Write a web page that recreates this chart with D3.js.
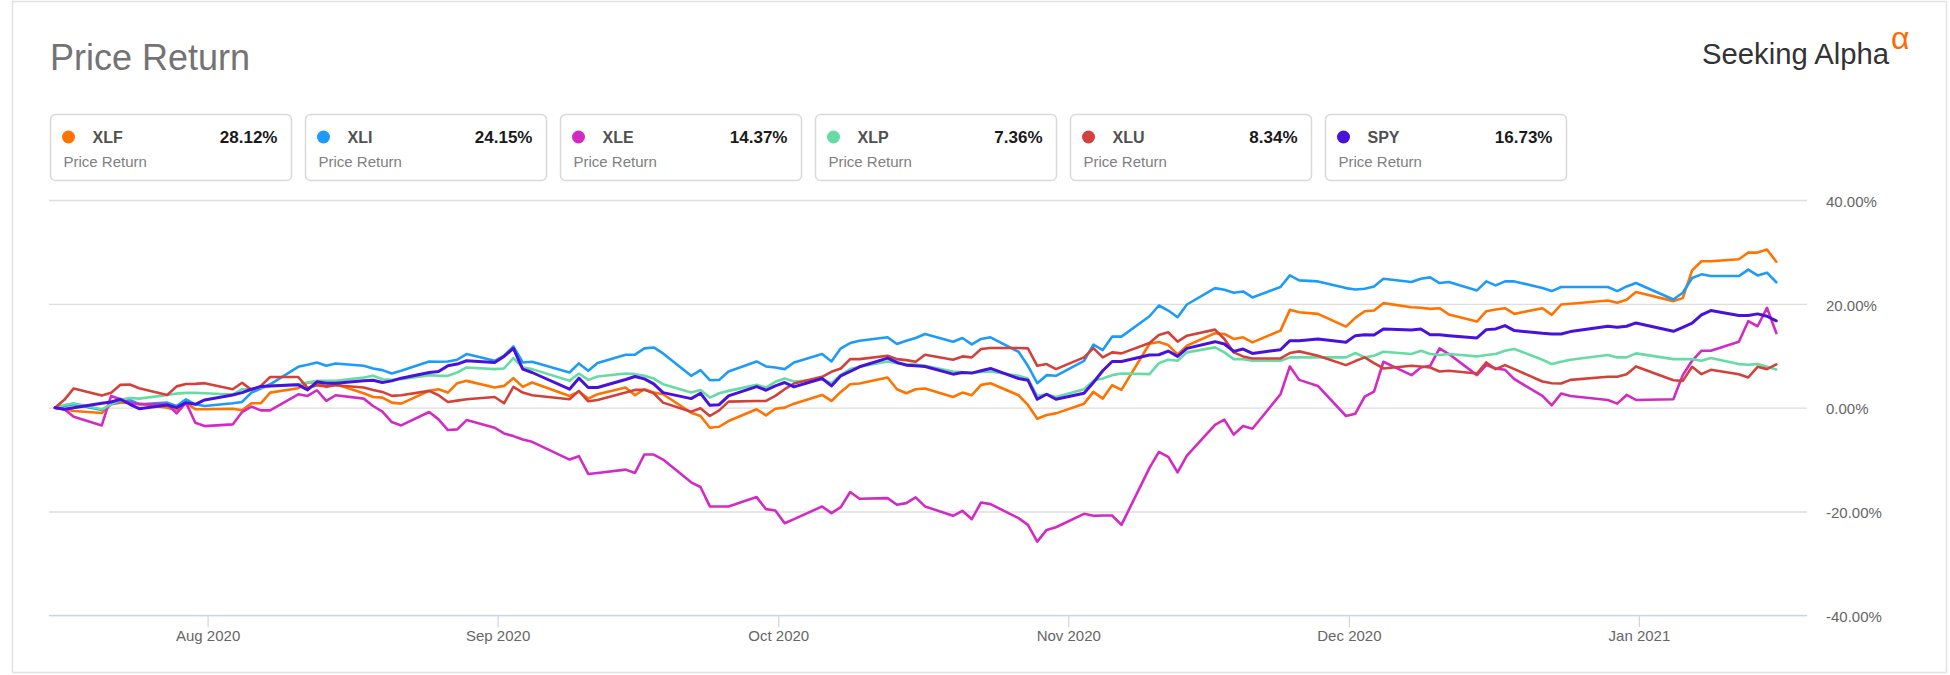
<!DOCTYPE html>
<html><head><meta charset="utf-8">
<script src="https://cdn.jsdelivr.net/npm/d3@7"></script>
<style>
body{margin:0;background:#fff;}
svg{display:block;font-family:"Liberation Sans",Arial,Helvetica,sans-serif;}
</style>
</head><body>
<svg id="chart" width="1950" height="675"></svg>
<script>
// ---------------- DATA ----------------
const tradingDays = [
"2020-07-15","2020-07-16","2020-07-17","2020-07-20","2020-07-21","2020-07-22","2020-07-23","2020-07-24","2020-07-27","2020-07-28","2020-07-29","2020-07-30","2020-07-31",
"2020-08-03","2020-08-04","2020-08-05","2020-08-06","2020-08-07","2020-08-10","2020-08-11","2020-08-12","2020-08-13","2020-08-14","2020-08-17","2020-08-18","2020-08-19","2020-08-20","2020-08-21","2020-08-24","2020-08-25","2020-08-26","2020-08-27","2020-08-28","2020-08-31",
"2020-09-01","2020-09-02","2020-09-03","2020-09-04","2020-09-08","2020-09-09","2020-09-10","2020-09-11","2020-09-14","2020-09-15","2020-09-16","2020-09-17","2020-09-18","2020-09-21","2020-09-22","2020-09-23","2020-09-24","2020-09-25","2020-09-28","2020-09-29","2020-09-30",
"2020-10-01","2020-10-02","2020-10-05","2020-10-06","2020-10-07","2020-10-08","2020-10-09","2020-10-12","2020-10-13","2020-10-14","2020-10-15","2020-10-16","2020-10-19","2020-10-20","2020-10-21","2020-10-22","2020-10-23","2020-10-26","2020-10-27","2020-10-28","2020-10-29","2020-10-30",
"2020-11-02","2020-11-03","2020-11-04","2020-11-05","2020-11-06","2020-11-09","2020-11-10","2020-11-11","2020-11-12","2020-11-13","2020-11-16","2020-11-17","2020-11-18","2020-11-19","2020-11-20","2020-11-23","2020-11-24","2020-11-25","2020-11-27","2020-11-30",
"2020-12-01","2020-12-02","2020-12-03","2020-12-04","2020-12-07","2020-12-08","2020-12-09","2020-12-10","2020-12-11","2020-12-14","2020-12-15","2020-12-16","2020-12-17","2020-12-18","2020-12-21","2020-12-22","2020-12-23","2020-12-24","2020-12-28","2020-12-29","2020-12-30","2020-12-31",
"2021-01-04","2021-01-05","2021-01-06","2021-01-07","2021-01-08","2021-01-11","2021-01-12","2021-01-13","2021-01-14","2021-01-15"
];

const xlf = [
0,-0.32,-0.65,-1.03,0.65,0.97,0.97,0.77,0,-0.45,0.97,-0.32,-0.32,
-0.2,-0.5,0.84,0.84,2.9,3.74,4.84,4.84,4.0,4.52,2.77,2.06,1.94,0.97,0.77,3.23,3.55,2.9,4.71,5.16,3.87,
4.19,5.68,4.0,4.84,2.26,3.1,1.74,2.58,3.87,2.39,3.55,2.9,2.58,-0.97,-1.61,-3.87,-3.68,-2.58,-0.32,-1.48,-0.2,
0,0.77,2.45,1.29,3.03,4.52,4.65,5.8,3.55,2.77,3.55,3.68,2.06,2.9,2.39,4.39,4.71,2.39,0.52,-2.13,-1.42,-1.1,
0.77,3.03,1.74,4.32,3.42,12.3,12.65,12.06,10.25,11.94,14.32,14.19,13.23,13.55,12.58,14.84,18.84,18.39,18.06,15.61,
17.29,18.58,18.71,20.13,19.35,19.23,19.03,19.16,17.94,16.58,18.58,18.9,19.16,18.06,19.16,17.87,19.87,20.0,20.65,20.19,20.77,22.26,
20.52,21.1,26.45,28.19,28.19,28.58,29.87,29.87,30.45,28.12
];

const xli = [
0,0.32,0.65,-0.45,0.65,1.29,1.48,0.65,0.97,0.32,1.61,0.65,0.32,
0.84,1.1,2.9,3.68,4.5,7.87,8.26,8.71,8.06,8.52,8.06,7.55,7.23,6.58,7.1,8.9,8.84,8.9,9.23,10.32,9.03,
10.0,11.8,8.71,8.84,6.77,8.52,7.1,8.58,10.2,10.2,11.42,11.6,10.45,6.13,7.23,5.29,5.35,6.97,8.9,7.94,7.74,
7.42,8.71,10.32,8.9,11.42,12.45,12.9,13.55,12.26,12.9,13.42,14.19,12.71,13.42,12.19,13.23,13.55,10.77,8.06,4.71,6.26,6.13,
9.03,12.13,11.1,13.68,13.68,17.61,19.68,18.71,17.42,19.87,23.03,22.71,22.13,22.39,21.23,23.23,25.48,24.52,24.32,23.03,
22.77,22.9,23.35,24.84,24.19,24.84,25.1,24.0,24.19,22.58,24.32,23.55,24.32,24.32,23.03,22.45,23.23,23.23,23.23,22.45,23.35,24.0,
20.84,22.13,24.97,25.68,25.35,25.35,26.58,25.48,26.0,24.15
];

const xle = [
0,-0.32,-1.74,-3.42,2.26,1.61,0.97,0.65,0.65,-1.1,0.97,-2.9,-3.55,
-3.23,-0.84,0.2,-0.52,-0.52,2.58,2.26,3.35,1.29,2.39,1.74,0.32,-0.77,-2.77,-3.42,-0.84,-2.26,-4.32,-4.19,-2.39,-3.87,
-4.97,-5.48,-6.13,-6.58,-10.0,-9.35,-12.77,-12.58,-11.94,-12.58,-9.03,-9.03,-10.0,-14.39,-15.29,-19.03,-19.03,-19.03,-17.23,-19.55,-19.81,
-22.26,-21.48,-19.03,-20.32,-19.16,-16.26,-17.55,-17.42,-18.71,-18.39,-17.29,-19.03,-20.84,-19.87,-21.48,-18.26,-18.58,-21.29,-22.58,-25.81,-23.55,-23.03,
-20.45,-20.84,-20.77,-20.77,-22.58,-11.61,-8.52,-9.48,-12.45,-9.23,-3.3,-2.3,-5.2,-3.55,-4.06,2.58,7.94,5.35,4.19,-1.61,
-1.16,2.13,3.1,8.84,6.26,7.74,8.06,11.42,10.32,6.26,8.19,7.55,7.29,5.48,2.26,0.45,2.71,2.26,1.48,0.77,2.45,1.48,
1.61,6.26,9.03,10.97,10.97,12.71,16.65,15.68,19.23,14.37
];

const xlp = [
0,0.5,0.84,-0.32,0.65,1.5,1.87,1.74,2.45,2.71,2.84,2.84,2.77,
2.52,3.55,3.55,3.87,4.19,4.52,4.84,5.16,5.16,5.16,5.8,6.13,5.48,5.35,5.48,6.26,6.13,6.13,6.77,7.74,7.42,
7.55,9.55,7.74,7.42,5.16,6.58,5.35,6.0,6.58,6.45,6.13,5.61,4.52,2.9,3.42,1.94,2.77,3.23,4.39,3.87,4.97,
5.61,5.03,5.48,4.71,6.32,7.42,7.87,8.9,8.58,8.39,8.32,8.06,6.97,6.84,6.77,6.9,6.97,6.13,5.61,2.26,2.58,2.06,
3.55,5.16,5.61,6.26,6.58,6.45,8.58,9.23,9.03,10.65,11.61,10.65,9.35,9.35,9.03,9.03,9.68,9.68,9.68,9.68,
10.52,9.68,10.0,10.77,10.32,10.97,10.32,10.13,10.32,9.87,10.13,10.32,10.97,11.29,9.23,8.39,8.84,9.23,10.13,9.68,9.68,10.45,
9.35,9.35,9.35,9.03,9.55,8.39,8.26,8.39,7.87,7.36
];

const xlu = [
0,1.5,3.7,2.32,2.85,4.39,4.45,3.74,2.45,4.1,4.55,4.58,4.72,
3.55,4.8,3.42,4.19,5.9,5.9,3.8,4.3,4.1,4.32,3.87,3.42,3.03,2.26,2.39,3.23,2.39,1.1,1.35,1.61,2.06,
0.84,4.0,2.9,2.39,1.61,3.23,1.23,1.48,2.9,3.42,3.42,2.77,0.97,-0.77,-0.13,-1.61,-0.52,1.16,1.29,1.29,2.26,
3.55,4.65,5.94,6.9,7.55,9.35,9.35,10.0,9.35,9.16,8.84,10.19,9.23,9.87,9.68,11.29,11.48,11.48,11.42,8.06,8.39,7.42,
9.68,11.48,9.68,10.65,10.45,12.45,14.0,14.52,12.71,13.87,15.03,13.23,10.65,9.87,9.48,9.48,10.52,10.84,10.0,8.19,
8.97,9.68,8.58,7.55,8.06,7.94,7.74,6.97,7.1,6.58,8.71,7.42,8.19,7.42,5.03,4.71,4.65,5.35,5.94,5.94,6.45,7.94,
5.29,5.16,7.87,6.45,7.29,6.45,5.81,7.87,7.42,8.34
];

const spy = [
0,-0.32,0,0.84,1.1,1.61,0.65,-0.2,0.52,0,0.97,0.65,1.48,
2.45,2.9,3.55,4.06,4.19,4.39,3.42,4.97,4.71,4.71,5.16,5.29,4.84,5.16,5.68,6.77,6.97,8.06,8.39,9.03,8.71,
9.87,11.42,7.42,6.77,3.55,5.68,3.87,3.87,5.42,5.99,5.55,4.58,2.9,1.74,2.77,0.45,0.58,2.26,4.06,3.35,4.19,
4.84,4.0,5.61,4.19,6.13,6.97,7.87,9.55,8.71,8.19,8.06,7.94,6.45,6.77,6.65,7.1,7.55,5.61,5.29,1.61,2.58,1.61,
2.77,4.84,7.1,8.9,8.9,10.13,10.19,10.9,9.87,11.42,12.71,12.26,10.84,11.29,10.45,11.16,12.9,12.9,13.23,12.58,
13.87,14.06,14.0,15.16,14.97,15.16,14.06,14.06,13.87,13.42,15.03,15.16,15.81,14.84,14.32,14.19,14.19,14.65,15.68,15.48,15.68,16.32,
14.71,15.48,16.26,17.87,18.71,17.74,17.74,18.06,17.61,16.73
];

const seriesNames   = ["XLF","XLI","XLE","XLP","XLU","SPY"];
const seriesValues  = [xlf, xli, xle, xlp, xlu, spy];
const seriesColors  = ["#ff7300","#1e9bf8","#d22bc5","#66dba4","#d2413a","#4712dc"];
const legendReturns = ["28.12%","24.15%","14.37%","7.36%","8.34%","16.73%"];
const legendSubtitle = "Price Return";
const chartTitle = "Price Return";
const monthTicks = ["2020-08-01","2020-09-01","2020-10-01","2020-11-01","2020-12-01","2021-01-01"];
const yTicks = [-40,-20,0,20,40];

// ---------------- CHART ----------------
const svg = d3.select("#chart");
const parse = d3.utcParse("%Y-%m-%d");
const closeOffset = 16.5 * 3600 * 1000; // daily points plotted at market close
const dates = tradingDays.map(d => new Date(parse(d).getTime() + closeOffset));

// card
svg.append("rect").attr("x",12.5).attr("y",1.5).attr("width",1934).attr("height",671)
  .attr("fill","#fff").attr("stroke","#e2e2e2").attr("stroke-width",1.5);

// title
svg.append("text").attr("x",50).attr("y",70).attr("font-size",36).attr("fill","#737373").text(chartTitle);

// logo
svg.append("text").attr("x",1702).attr("y",64).attr("font-size",29).attr("fill","#333")
  .attr("textLength",187).attr("lengthAdjust","spacingAndGlyphs").text("Seeking Alpha");
svg.append("text").attr("x",1891).attr("y",49).attr("font-size",32).attr("fill","#ff6a00").text("α");

// legend boxes
const boxW = 241, boxH = 66, boxStep = 255, boxX0 = 50, boxY = 114.5;
const lg = svg.append("g").selectAll("g").data(seriesNames).join("g")
  .attr("transform",(d,i)=>`translate(${boxX0 + i*boxStep + 0.5},${boxY})`);
lg.append("rect").attr("width",boxW).attr("height",boxH).attr("rx",5).attr("ry",5)
  .attr("fill","#fff").attr("stroke","#dadada").attr("stroke-width",1.5);
lg.append("circle").attr("cx",18).attr("cy",22.5).attr("r",6.5).attr("fill",(d,i)=>seriesColors[i]);
lg.append("text").attr("x",42).attr("y",28).attr("font-size",16).attr("font-weight","bold")
  .attr("fill","#505050").text(d=>d);
lg.append("text").attr("x",boxW-14).attr("y",28.5).attr("text-anchor","end").attr("font-size",17)
  .attr("font-weight","bold").attr("fill","#1a1a1a").text((d,i)=>legendReturns[i]);
lg.append("text").attr("x",13).attr("y",52).attr("font-size",15).attr("fill","#808080").text(legendSubtitle);

// scales
const plotLeft = 49, plotRight = 1807;
const x = d3.scaleUtc().domain([dates[0], dates[dates.length-1]]).range([55, 1776.3]);
const y = d3.scaleLinear().domain([-40, 40]).range([615.3, 200]);

// gridlines
const grid = svg.append("g").attr("transform",`translate(${plotRight},0)`)
  .call(d3.axisLeft(y).tickValues(yTicks).tickSize(plotRight - plotLeft).tickFormat(""));
grid.select(".domain").remove();
grid.selectAll("line").attr("stroke","#dedede").attr("stroke-width",1.3);

// y labels
const yAx = svg.append("g").attr("transform",`translate(${plotRight},1.5)`)
  .call(d3.axisRight(y).tickValues(yTicks).tickSize(0).tickPadding(19).tickFormat(d => d.toFixed(2) + "%"));
yAx.select(".domain").remove();
yAx.selectAll("text").attr("font-size",15).attr("fill","#666").attr("font-family","Liberation Sans, Arial, sans-serif");

// x axis
svg.append("line").attr("x1",plotLeft).attr("x2",plotRight).attr("y1",y(-40)).attr("y2",y(-40))
  .attr("stroke","#ccd6eb").attr("stroke-width",1.3);
const xAx = svg.append("g").attr("transform",`translate(0,${y(-40)})`)
  .call(d3.axisBottom(x).tickValues(monthTicks.map(parse)).tickSize(12).tickPadding(3)
    .tickFormat(d3.utcFormat("%b %Y")));
xAx.select(".domain").remove();
xAx.selectAll("line").attr("stroke","#ccd6eb").attr("stroke-width",1.2);
xAx.selectAll("text").attr("font-size",15).attr("fill","#666").attr("font-family","Liberation Sans, Arial, sans-serif");

// lines
const line = d3.line().x((d,i)=>x(dates[i])).y(d=>y(d));
svg.append("g").selectAll("path").data(seriesValues).join("path")
  .attr("d", d => line(d))
  .attr("fill","none")
  .attr("stroke",(d,i)=>seriesColors[i])
  .attr("stroke-width",(d,i)=> i===5 ? 3 : 2.6)
  .attr("stroke-linejoin","round")
  .attr("stroke-linecap","round");
</script>
</body></html>
